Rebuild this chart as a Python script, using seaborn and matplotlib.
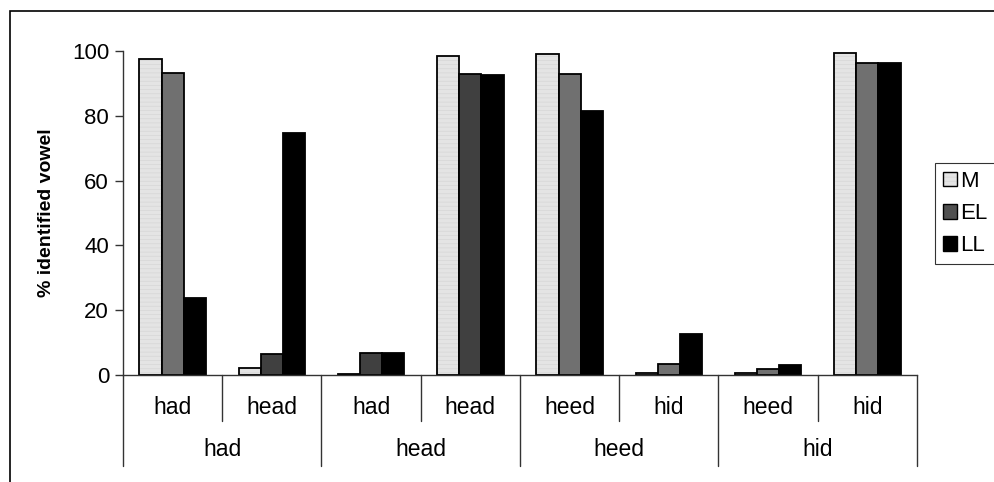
import pandas as pd
import matplotlib.pyplot as plt
import matplotlib.transforms as mtransforms
from matplotlib.patches import Patch, Rectangle
import seaborn as sns

# DATA

groups = ["had", "head", "heed", "hid"]
sub_labels = ["had", "head", "had", "head", "heed", "hid", "heed", "hid"]
series = ["M", "EL", "LL"]
m_vals = [97.4, 2.1, 0.3, 98.4, 99.0, 0.6, 0.6, 99.3]
el_vals = [93.3, 6.6, 6.8, 92.8, 93.0, 3.5, 1.8, 96.2]
ll_vals = [23.7, 74.8, 6.8, 92.7, 81.5, 12.6, 3.0, 96.2]

slots = [g + "|" + s for g, s in zip([g for g in groups for _ in range(2)], sub_labels)]

df = pd.DataFrame({
    "slot": slots * 3,
    "series": [s for s in series for _ in slots],
    "value": m_vals + el_vals + ll_vals,
})

# STYLE

sns.set_theme(style="white")
plt.rcParams["font.family"] = ["Liberation Sans", "DejaVu Sans"]
plt.rcParams["text.color"] = "black"
plt.rcParams["ytick.color"] = "#333333"
plt.rcParams["ytick.labelcolor"] = "black"
plt.rcParams["axes.labelcolor"] = "black"
plt.rcParams["hatch.linewidth"] = 0.5

fig = plt.figure(figsize=(9.95, 4.82), dpi=100)
W, H = 995, 482
ax = fig.add_axes([123 / W, 1 - 375 / H, (917 - 123) / W, (375 - 51) / H])

palette = {"M": "#e4e4e4", "EL": "#707070", "LL": "#000000"}
sns.barplot(data=df, x="slot", y="value", hue="series", order=slots,
            hue_order=series, palette=palette, width=0.67, gap=0,
            edgecolor="black", linewidth=1.3, saturation=1, legend=False, ax=ax)

# M bars have a faint horizontal texture, EL bars are darker in some slots
el_colors = ["#707070", "#404040", "#404040", "#404040",
             "#707070", "#707070", "#707070", "#707070"]
hatch_col = (0.84, 0.84, 0.84, 1)
for p in ax.containers[0]:
    p.set_hatch("----")
    p._hatch_color = hatch_col
for p, c in zip(ax.containers[1], el_colors):
    p.set_facecolor(c)

ax.set_xlim(-0.5, 7.5)
ax.set_ylim(0, 100)
ax.set_yticks([0, 20, 40, 60, 80, 100])
ax.tick_params(axis="y", direction="out", length=6, width=1,
               labelsize=16, pad=4, left=True)
ax.set_xticks([])
ax.set_xlabel("")
ax.set_ylabel("% identified vowel", fontsize=14, fontweight="bold", labelpad=12)
for side in ["top", "right"]:
    ax.spines[side].set_visible(False)
for side in ["left", "bottom"]:
    ax.spines[side].set_color("#333333")
    ax.spines[side].set_linewidth(1)

# hierarchical category axis
trans = mtransforms.blended_transform_factory(ax.transData, ax.transAxes)
for i, b in enumerate([x - 0.5 for x in range(9)]):
    low = -0.281 if i % 2 == 0 else -0.142
    ax.plot([b, b], [0, low], color="#333333", lw=1, transform=trans, clip_on=False)
for i, lab in enumerate(sub_labels):
    ax.text(i, -0.099, lab, ha="center", va="center", fontsize=16.5, transform=trans)
for i, g in enumerate(groups):
    ax.text(2 * i + 0.5, -0.231, g, ha="center", va="center", fontsize=16.5, transform=trans)

# legend
handles = [Patch(facecolor="#e4e4e4", edgecolor="black", hatch="----", label="M"),
           Patch(facecolor="#505050", edgecolor="black", label="EL"),
           Patch(facecolor="#000000", edgecolor="black", label="LL")]
handles[0]._hatch_color = hatch_col
leg = fig.legend(handles=handles, loc="upper left", bbox_to_anchor=(935 / W, 1 - 163 / H),
                 fontsize=16, frameon=True, fancybox=False, handlelength=0.65,
                 handleheight=0.65, handletextpad=0.15, labelspacing=0.5,
                 borderpad=0.35, borderaxespad=0)
leg.get_frame().set_edgecolor("black")
leg.get_frame().set_linewidth(0.8)

# outer chart frame (right and bottom edges lie outside the picture)
fig.patches.append(Rectangle((10 / W, -0.1), 1.2, 1 - 11 / H + 0.1,
                             transform=fig.transFigure, fill=False,
                             edgecolor="black", linewidth=1.2))

fig.savefig("out.png", dpi=100)
